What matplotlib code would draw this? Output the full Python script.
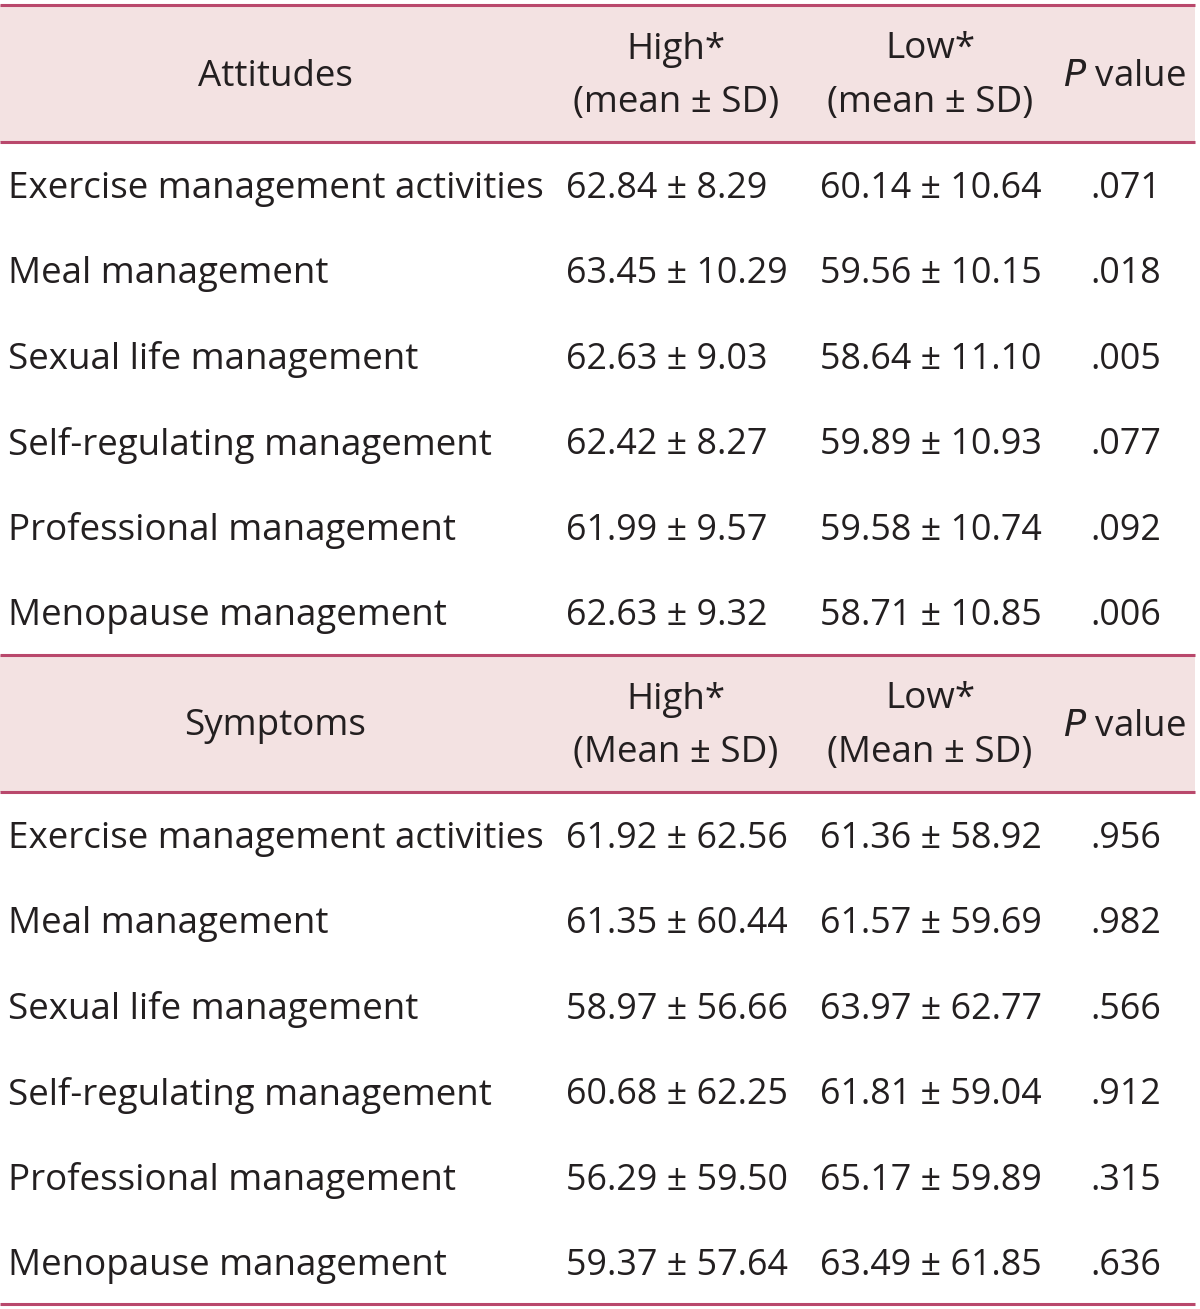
import matplotlib.pyplot as plt
from matplotlib.patches import Rectangle

plt.rcParams['font.family'] = ['Open Sans', 'DejaVu Sans']

# table content
items = ['Exercise management activities', 'Meal management', 'Sexual life management',
         'Self-regulating management', 'Professional management', 'Menopause management']

att_high = ['62.84 ± 8.29', '63.45 ± 10.29', '62.63 ± 9.03', '62.42 ± 8.27', '61.99 ± 9.57', '62.63 ± 9.32']
att_low = ['60.14 ± 10.64', '59.56 ± 10.15', '58.64 ± 11.10', '59.89 ± 10.93', '59.58 ± 10.74', '58.71 ± 10.85']
att_p = ['.071', '.018', '.005', '.077', '.092', '.006']

sym_high = ['61.92 ± 62.56', '61.35 ± 60.44', '58.97 ± 56.66', '60.68 ± 62.25', '56.29 ± 59.50', '59.37 ± 57.64']
sym_low = ['61.36 ± 58.92', '61.57 ± 59.69', '63.97 ± 62.77', '61.81 ± 59.04', '65.17 ± 59.89', '63.49 ± 61.85']
sym_p = ['.956', '.982', '.566', '.912', '.315', '.636']

blocks = [
    ('Attitudes', '(mean ± SD)', att_high, att_low, att_p),
    ('Symptoms', '(Mean ± SD)', sym_high, sym_low, sym_p),
]

W, H = 1200, 1309
fig = plt.figure(figsize=(W / 100, H / 100), dpi=100)
ax = fig.add_axes([0, 0, 1, 1])
ax.set_xlim(0, W)
ax.set_ylim(H, 0)
ax.axis('off')

line_c = '#B9486C'
head_bg = '#F3E2E2'
txt_c = '#231F20'
fs = 26.5
fs_num = 25.8

x_left = 0
x_right = 1195
block_top = [5, 655]
head_h = 137
row_h = 85.4

for b, (title, sub, high, low, pv) in enumerate(blocks):
    top = block_top[b]
    bot = top + head_h
    ax.add_patch(Rectangle((x_left, top), x_right - x_left, head_h,
                           facecolor=head_bg, edgecolor='none', zorder=1))
    ax.plot([x_left, x_right], [top, top], color=line_c, lw=2.2, zorder=2,
            solid_capstyle='butt')
    ax.plot([x_left, x_right], [bot, bot], color=line_c, lw=2.2, zorder=2,
            solid_capstyle='butt')

    mid = (top + bot) / 2 + 3
    ax.text(275, mid, title, ha='center', va='center', fontsize=fs, color=txt_c)
    ax.text(676, mid - 27, 'High*', ha='center', va='center', fontsize=fs, color=txt_c)
    ax.text(676, mid + 26, sub, ha='center', va='center', fontsize=fs, color=txt_c)
    ax.text(930, mid - 27, 'Low*', ha='center', va='center', fontsize=fs, color=txt_c)
    ax.text(930, mid + 26, sub, ha='center', va='center', fontsize=fs, color=txt_c)
    ax.text(1124, mid, '$\\it{P}$ value', ha='center', va='center', fontsize=fs, color=txt_c)

    for i in range(len(items)):
        y = bot + 47 + i * row_h
        ax.text(8, y, items[i], ha='left', va='center', fontsize=fs, color=txt_c)
        ax.text(566, y, high[i], ha='left', va='center', fontsize=fs_num, color=txt_c)
        ax.text(820, y, low[i], ha='left', va='center', fontsize=fs_num, color=txt_c)
        ax.text(1126, y, pv[i], ha='center', va='center', fontsize=fs_num, color=txt_c)

ax.plot([x_left, x_right], [1304, 1304], color=line_c, lw=2.2, solid_capstyle='butt')

fig.savefig('out.png', dpi=100)
